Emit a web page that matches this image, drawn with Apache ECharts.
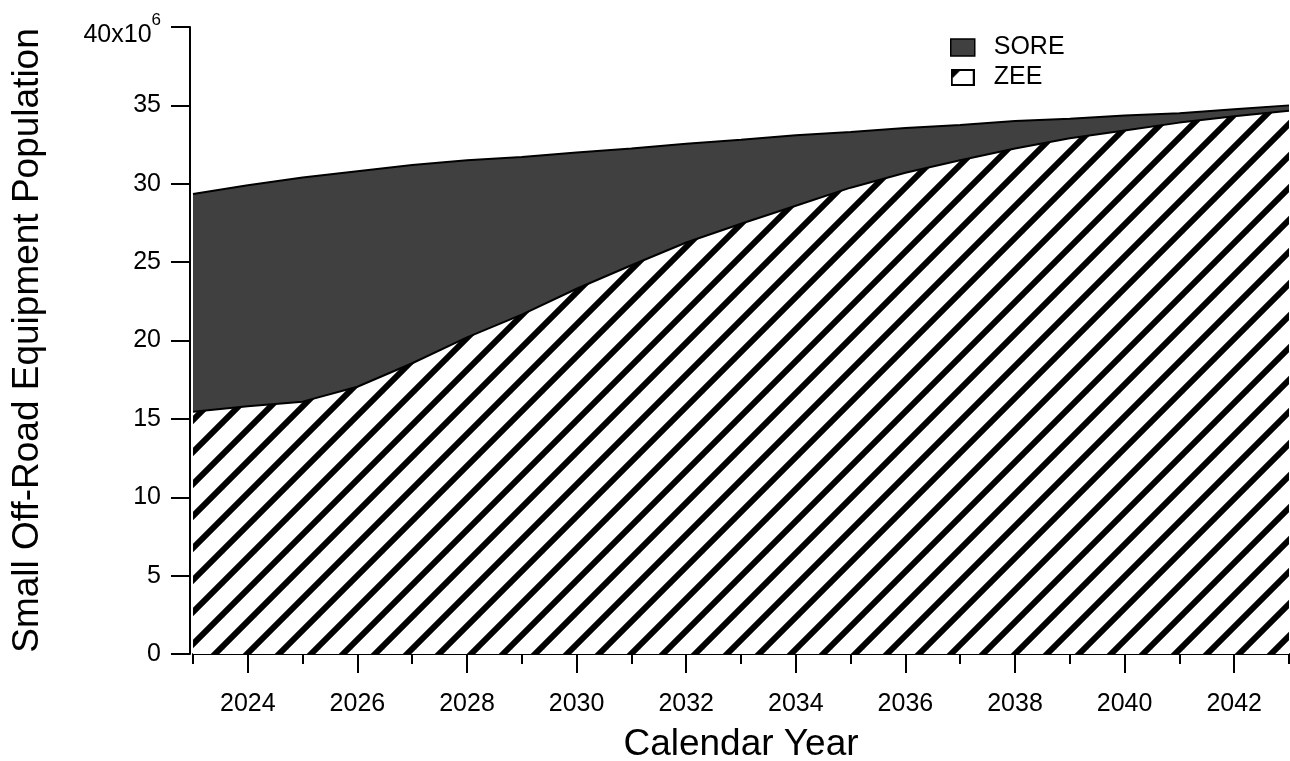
<!DOCTYPE html>
<html>
<head>
<meta charset="utf-8">
<script src="https://cdn.jsdelivr.net/npm/echarts@6/dist/echarts.min.js"></script>
<style>
  html, body { margin: 0; padding: 0; background: #fff; }
  #chart { width: 1290px; height: 761px; }
</style>
</head>
<body>
<div id="chart"></div>
<script>
// Small off-road equipment population by calendar year (millions of units)
const years = ['2023', '2024', '2025', '2026', '2027', '2028', '2029', '2030', '2031', '2032', '2033',
               '2034', '2035', '2036', '2037', '2038', '2039', '2040', '2041', '2042', '2043'];
const zee  = [15.45, 15.8, 16.1, 17.05, 18.55, 20.2, 21.65, 23.3, 24.8, 26.25, 27.45,
              28.6, 29.75, 30.7, 31.5, 32.25, 32.9, 33.4, 33.9, 34.3, 34.65];
const sore = [13.9, 14.1, 14.3, 13.75, 12.65, 11.3, 10.05, 8.7, 7.45, 6.3, 5.35,
              4.5, 3.55, 2.85, 2.25, 1.75, 1.25, 0.95, 0.6, 0.45, 0.35];
const labeledYears = ['2024', '2026', '2028', '2030', '2032', '2034', '2036', '2038', '2040', '2042'];
const minorYears = ['2023', '2025', '2027', '2029', '2031', '2033', '2035', '2037', '2039', '2041', '2043'];

const FONT = '"Liberation Sans", Arial, Helvetica, sans-serif';

// Diagonal "/" hatch tile used for the ZEE fill
function makeHatch() {
  const s = 32;
  const c = document.createElement('canvas');
  c.width = s; c.height = s;
  const ctx = c.getContext('2d');
  ctx.fillStyle = '#fff';
  ctx.fillRect(0, 0, s, s);
  ctx.strokeStyle = '#000';
  ctx.lineWidth = 6;
  ctx.lineCap = 'butt';
  const phase = 5;
  for (let k = -1; k <= 2; k++) {
    const cst = phase + k * s;
    ctx.beginPath();
    ctx.moveTo(-12, cst + 12);
    ctx.lineTo(cst + 12, -12);
    ctx.stroke();
  }
  return c;
}

// Legend swatch for ZEE: white box with a hatch corner
function makeZeeIcon() {
  const w = 24, h = 17;
  const c = document.createElement('canvas');
  c.width = w; c.height = h;
  const ctx = c.getContext('2d');
  ctx.fillStyle = '#fff';
  ctx.fillRect(0, 0, w, h);
  ctx.fillStyle = '#000';
  ctx.beginPath();
  ctx.moveTo(1, 1); ctx.lineTo(10, 1); ctx.lineTo(1, 10); ctx.closePath();
  ctx.fill();
  ctx.strokeStyle = '#000';
  ctx.lineWidth = 2;
  ctx.strokeRect(1, 1, w - 2, h - 2);
  return c.toDataURL();
}

const chart = echarts.init(document.getElementById('chart'), null, { renderer: 'canvas' });

const axisLineStyle = { color: '#000', width: 2 };

chart.setOption({
  animation: false,
  backgroundColor: '#fff',
  textStyle: { fontFamily: FONT, color: '#000' },
  grid: { left: 193, right: 1, top: 27, bottom: 107, containLabel: false, outerBoundsMode: 'none' },
  legend: {
    orient: 'vertical',
    left: 945,
    top: 30,
    itemWidth: 24,
    itemHeight: 17,
    itemGap: 5,
    selectedMode: false,
    textStyle: { fontFamily: FONT, fontSize: 25, color: '#000', padding: [0, 0, 0, 14] },
    data: [
      { name: 'SORE', icon: 'rect', itemStyle: { color: '#404040', borderColor: '#000', borderWidth: 1.5 } },
      { name: 'ZEE', icon: 'image://' + makeZeeIcon() }
    ]
  },
  xAxis: [
    {
      type: 'category',
      data: years,
      boundaryGap: false,
      position: 'bottom',
      axisLine: { show: true, onZero: false, lineStyle: axisLineStyle },
      axisTick: {
        show: true,
        interval: (i, v) => labeledYears.includes(v),
        length: 19,
        lineStyle: axisLineStyle
      },
      axisLabel: {
        interval: (i, v) => labeledYears.includes(v),
        fontFamily: FONT, fontSize: 25, color: '#000', margin: 38
      },
      splitLine: { show: false },
      name: 'Calendar Year',
      nameLocation: 'middle',
      nameGap: 72,
      nameTextStyle: { fontFamily: FONT, fontSize: 37, color: '#000' }
    },
    {
      type: 'category',
      data: years,
      boundaryGap: false,
      position: 'bottom',
      axisLine: { show: false },
      axisTick: {
        show: true,
        interval: (i, v) => minorYears.includes(v),
        length: 10,
        lineStyle: axisLineStyle
      },
      axisLabel: { show: false },
      splitLine: { show: false }
    }
  ],
  yAxis: {
    type: 'value',
    min: 0,
    max: 40,
    interval: 5,
    offset: 3,
    axisLine: { show: true, lineStyle: axisLineStyle },
    axisTick: { show: true, length: 19, lineStyle: axisLineStyle },
    axisLabel: {
      margin: 29,
      fontFamily: FONT,
      fontSize: 25,
      color: '#000',
      formatter: v => (v === 40 ? '{sp| }\n{sup|6}\n{b|40x10}{ghost|6}' : String(v)),
      rich: {
        sp: { fontSize: 1, lineHeight: 6 },
        sup: { fontFamily: FONT, fontSize: 17, color: '#000', lineHeight: 11 },
        b: { fontFamily: FONT, fontSize: 25, color: '#000', lineHeight: 20 },
        ghost: { fontFamily: FONT, fontSize: 17, color: 'rgba(0,0,0,0)', lineHeight: 20 }
      }
    },
    splitLine: { show: false },
    name: 'Small Off-Road Equipment Population',
    nameLocation: 'middle',
    nameGap: 144,
    nameTextStyle: { fontFamily: FONT, fontSize: 37, color: '#000' }
  },
  series: [
    {
      name: 'ZEE',
      type: 'line',
      stack: 'population',
      data: zee,
      symbol: 'none',
      color: '#000',
      lineStyle: { color: '#000', width: 2 },
      areaStyle: { color: { image: makeHatch(), repeat: 'repeat' }, opacity: 1 },
      z: 3
    },
    {
      name: 'SORE',
      type: 'line',
      stack: 'population',
      data: sore,
      symbol: 'none',
      color: '#404040',
      lineStyle: { color: '#000', width: 2 },
      areaStyle: { color: '#404040', opacity: 1 },
      z: 2
    }
  ]
});
</script>
</body>
</html>
